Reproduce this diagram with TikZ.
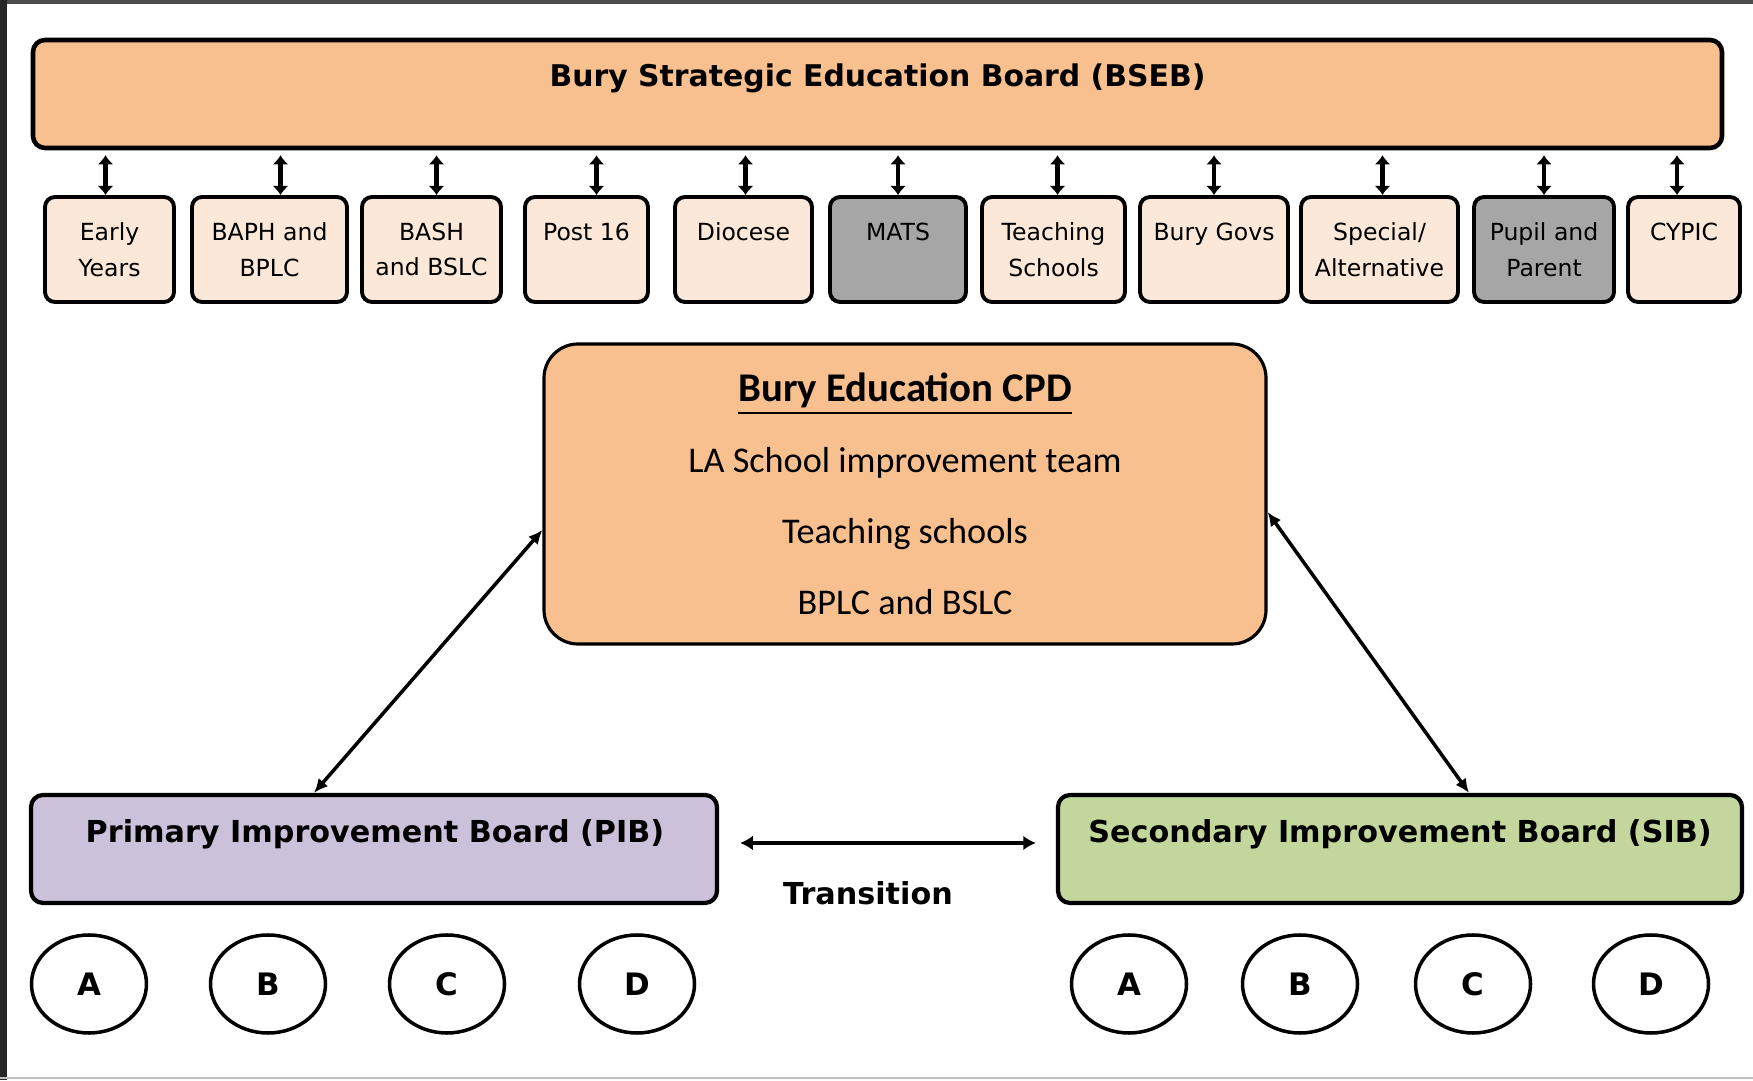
\documentclass[tikz,border=0pt]{standalone}
\usepackage{fontspec}
\setmainfont{DejaVu Sans}
\newfontfamily\calibri{Carlito}
\usetikzlibrary{shapes.geometric, arrows.meta}

\definecolor{naranja}{HTML}{F8BF8F}
\definecolor{crema}{HTML}{FCE8D8}
\definecolor{gris}{HTML}{A6A6A6}
\definecolor{lila}{HTML}{CCC1DA}
\definecolor{verde}{HTML}{C3D69B}

\tikzset{
  caja/.style={draw, line width=1.1pt, rounded corners=0.1cm, fill=crema, minimum height=1.05cm,
    align=center, inner sep=0pt, font=\fontsize{6.7}{10.2}\selectfont},
  junta/.style={draw, line width=1.2pt, rounded corners=0.12cm, minimum height=1.08cm},
  titulo/.style={font=\fontsize{8.6}{10}\selectfont\bfseries},
  escuela/.style={ellipse, draw, line width=1pt, minimum width=1.15cm, minimum height=0.98cm,
    inner sep=0pt, font=\fontsize{8.8}{10}\selectfont\bfseries},
  flecha/.style={draw, line width=1.3pt, {Latex[length=2.6pt,width=4.6pt]}-{Latex[length=2.6pt,width=4.6pt]},
    shorten >=0.05cm},
  flechadiag/.style={line width=1pt, {Latex[length=4pt,width=3.6pt]}-{Latex[length=4pt,width=3.6pt]}},
  flechatrans/.style={line width=1.1pt, {Latex[length=3.6pt,width=4.2pt]}-{Latex[length=3.6pt,width=4.2pt]},
    shorten <=0.21cm, shorten >=0.2cm}
}

\begin{document}
\begin{tikzpicture}
\newcommand{\filacajas}{8.305}
\newcommand{\filaescuelas}{0.96}
\useasboundingbox (0,0) rectangle (17.53,10.8);

\fill [black!70] (0,10.76) rectangle (17.53,10.8);	% arriba
\fill [black!85] (0,0) rectangle (0.07,10.8);	% izquierda
\draw [black!25, line width=0.5pt] (0,0.02) -- (17.53,0.02);	% abajo

\node (bseb) [junta, fill=naranja, line width=1.3pt, minimum width=16.89cm] at (8.775,9.86) {};
\node (tbseb) [titulo, font=\fontsize{8.5}{10}\selectfont\bfseries] at (8.775,10.02) {Bury Strategic Education Board (BSEB)};

\node (ey) [caja, minimum width=1.29cm] at (1.095,\filacajas) {Early\\Years};
\node (baph) [caja, minimum width=1.55cm] at (2.695,\filacajas) {BAPH and\\BPLC};
\node (bash) [caja, minimum width=1.39cm] at (4.315,\filacajas) {BASH\\and BSLC};
\node (post) [caja, minimum width=1.23cm] at (5.865,\filacajas) {Post 16\\~};
\node (dioc) [caja, minimum width=1.37cm] at (7.435,\filacajas) {Diocese\\~};
\node (mats) [caja, fill=gris, minimum width=1.36cm] at (8.98,\filacajas) {MATS\\~};
\node (tsch) [caja, minimum width=1.43cm] at (10.535,\filacajas) {Teaching\\Schools};
\node (govs) [caja, minimum width=1.48cm] at (12.14,\filacajas) {Bury Govs\\~};
\node (spec) [caja, minimum width=1.57cm] at (13.795,\filacajas) {Special/\\Alternative};
\node (pupil) [caja, fill=gris, minimum width=1.40cm] at (15.44,\filacajas) {Pupil and\\Parent};
\node (cypic) [caja, minimum width=1.12cm] at (16.84,\filacajas) {CYPIC\\~};

\path
	([xshift=-0.04cm]ey.north) edge[flecha] ([xshift=-0.04cm]ey.north |- bseb.south)
	([xshift=0.11cm]baph.north) edge[flecha] ([xshift=0.11cm]baph.north |- bseb.south)
	([xshift=0.05cm]bash.north) edge[flecha] ([xshift=0.05cm]bash.north |- bseb.south)
	([xshift=0.1cm]post.north) edge[flecha] ([xshift=0.1cm]post.north |- bseb.south)
	([xshift=0.02cm]dioc.north) edge[flecha] ([xshift=0.02cm]dioc.north |- bseb.south)
	(mats.north) edge[flecha] (mats.north |- bseb.south)
	([xshift=0.04cm]tsch.north) edge[flecha] ([xshift=0.04cm]tsch.north |- bseb.south)
	(govs.north) edge[flecha] (govs.north |- bseb.south)
	([xshift=0.03cm]spec.north) edge[flecha] ([xshift=0.03cm]spec.north |- bseb.south)
	(pupil.north) edge[flecha] (pupil.north |- bseb.south)
	([xshift=-0.07cm]cypic.north) edge[flecha] ([xshift=-0.07cm]cypic.north |- bseb.south)
;

\node (cpd) [draw, line width=0.9pt, rounded corners=0.34cm, fill=naranja, minimum width=7.22cm,
	minimum height=3cm, align=center, font=\calibri\fontsize{10.3}{20.2}\selectfont] at (9.05,5.86)
	{{\fontsize{11.6}{20.2}\selectfont\bfseries\underline{Bury Education CPD}}\\
	LA School improvement team\\Teaching schools\\BPLC and BSLC};

\node (pib) [junta, fill=lila, minimum width=6.86cm] at (3.74,2.31) {};
\node (tpib) [titulo] at (3.75,2.46) {Primary Improvement Board (PIB)};
\node (sib) [junta, fill=verde, minimum width=6.84cm] at (14.0,2.31) {};
\node (tsib) [titulo] at (14.0,2.46) {Secondary Improvement Board (SIB)};

\draw [flechadiag] ([xshift=-0.6cm]pib.north) -- ([yshift=-0.36cm]cpd.west);
\draw [flechadiag] ([yshift=-0.18cm]cpd.east) -- ([xshift=0.69cm]sib.north);
\draw [flechatrans] ([yshift=0.06cm]pib.east) -- ([yshift=0.06cm]sib.west);
\node (ttrans) [titulo] at (8.68,1.87) {Transition};

\node (pa) [escuela] at (0.89,\filaescuelas) {A};	% primaria
\node (pb) [escuela] at (2.68,\filaescuelas) {B};
\node (pc) [escuela] at (4.47,\filaescuelas) {C};
\node (pd) [escuela] at (6.37,\filaescuelas) {D};
\node (sa) [escuela] at (11.29,\filaescuelas) {A};	% secundaria
\node (sb) [escuela] at (13.0,\filaescuelas) {B};
\node (sc) [escuela] at (14.73,\filaescuelas) {C};
\node (sd) [escuela] at (16.51,\filaescuelas) {D};
\end{tikzpicture}
\end{document}
